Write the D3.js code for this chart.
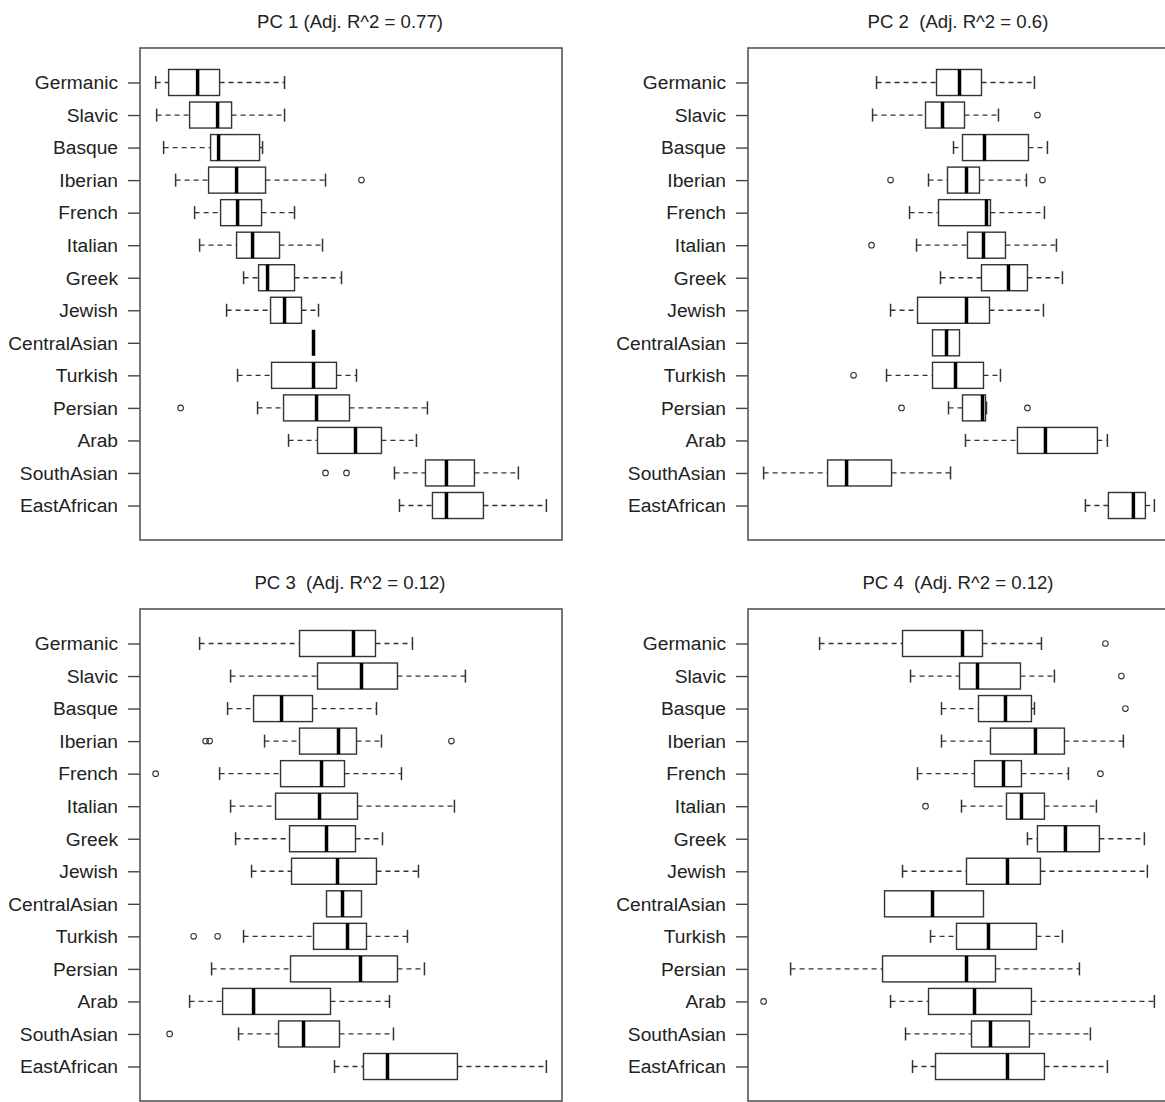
<!DOCTYPE html>
<html>
<head>
<meta charset="utf-8">
<script src="https://cdn.jsdelivr.net/npm/d3@7"></script>
<style>
  html, body { margin: 0; padding: 0; background: #fff; }
  svg { display: block; }
  text { font-family: "Liberation Sans", Arial, sans-serif; fill: #222; white-space: pre; }
</style>
</head>
<body>
<svg id="chart" width="1165" height="1102"></svg>
<script>
const categories = ["Germanic","Slavic","Basque","Iberian","French","Italian","Greek","Jewish","CentralAsian","Turkish","Persian","Arab","SouthAsian","EastAfrican"];
const titles = ["PC 1 (Adj. R^2 = 0.77)", "PC 2  (Adj. R^2 = 0.6)", "PC 3  (Adj. R^2 = 0.12)", "PC 4  (Adj. R^2 = 0.12)"];

// [lower whisker, Q1, median, Q3, upper whisker]
const pc1Stats = [
  [-1.96,-1.83,-1.54,-1.32,-0.67],
  [-1.95,-1.62,-1.34,-1.20,-0.67],
  [-1.88,-1.41,-1.33,-0.92,-0.89],
  [-1.76,-1.43,-1.15,-0.86,-0.26],
  [-1.57,-1.31,-1.14,-0.90,-0.57],
  [-1.52,-1.15,-0.99,-0.72,-0.29],
  [-1.08,-0.93,-0.84,-0.57,-0.10],
  [-1.25,-0.81,-0.67,-0.50,-0.33],
  [-0.38,-0.38,-0.38,-0.38,-0.38],
  [-1.14,-0.80,-0.38,-0.15, 0.05],
  [-0.94,-0.68,-0.35,-0.02, 0.76],
  [-0.63,-0.34, 0.04, 0.30, 0.65],
  [ 0.43, 0.74, 0.95, 1.23, 1.67],
  [ 0.48, 0.81, 0.95, 1.32, 1.95]
];
const pc1Outliers = [[],[],[],[0.10],[],[],[],[],[],[],[-1.71],[],[-0.26,-0.05],[]];

const pc2Stats = [
  [-0.82,-0.22, 0.01, 0.23, 0.76],
  [-0.86,-0.33,-0.16, 0.06, 0.40],
  [-0.05, 0.04, 0.26, 0.70, 0.89],
  [-0.30,-0.11, 0.08, 0.21, 0.68],
  [-0.49,-0.20, 0.28, 0.32, 0.86],
  [-0.42, 0.09, 0.25, 0.47, 0.98],
  [-0.18, 0.23, 0.50, 0.69, 1.04],
  [-0.68,-0.41, 0.08, 0.31, 0.85],
  [-0.26,-0.26,-0.12, 0.01, 0.01],
  [-0.72,-0.26,-0.03, 0.25, 0.42],
  [-0.10, 0.04, 0.24, 0.27, 0.28],
  [ 0.07, 0.59, 0.87, 1.39, 1.49],
  [-1.95,-1.31,-1.12,-0.67,-0.08],
  [ 1.27, 1.50, 1.75, 1.87, 1.96]
];
const pc2Outliers = [[],[0.79],[],[-0.68,0.84],[],[-0.87],[],[],[],[-1.05],[-0.57,0.69],[],[],[]];

const pc3Stats = [
  [-1.52,-0.52, 0.02, 0.24, 0.61],
  [-1.21,-0.34, 0.10, 0.46, 1.14],
  [-1.24,-0.98,-0.70,-0.39, 0.25],
  [-0.87,-0.52,-0.13, 0.05, 0.30],
  [-1.32,-0.71,-0.30,-0.07, 0.50],
  [-1.21,-0.76,-0.32, 0.06, 1.03],
  [-1.16,-0.62,-0.25, 0.04, 0.31],
  [-1.00,-0.60,-0.14, 0.25, 0.67],
  [-0.25,-0.25,-0.09, 0.10, 0.10],
  [-1.08,-0.38,-0.04, 0.15, 0.56],
  [-1.40,-0.61, 0.09, 0.46, 0.73],
  [-1.62,-1.29,-0.98,-0.21, 0.38],
  [-1.13,-0.73,-0.48,-0.12, 0.42],
  [-0.17, 0.12, 0.36, 1.06, 1.95]
];
const pc3Outliers = [[],[],[],[-1.46,-1.42,1.00],[-1.96],[],[],[],[],[-1.58,-1.34],[],[],[-1.82],[]];

const pc4Stats = [
  [-1.39,-0.56, 0.04, 0.24, 0.83],
  [-0.48, 0.01, 0.19, 0.62, 0.96],
  [-0.17, 0.20, 0.47, 0.73, 0.76],
  [-0.17, 0.32, 0.77, 1.06, 1.65],
  [-0.41, 0.16, 0.45, 0.63, 1.10],
  [ 0.03, 0.48, 0.63, 0.86, 1.38],
  [ 0.69, 0.79, 1.07, 1.41, 1.86],
  [-0.56, 0.08, 0.49, 0.82, 1.89],
  [-0.74,-0.74,-0.26, 0.25, 0.25],
  [-0.28,-0.02, 0.30, 0.78, 1.04],
  [-1.68,-0.76, 0.08, 0.37, 1.21],
  [-0.68,-0.30, 0.16, 0.73, 1.96],
  [-0.53, 0.13, 0.32, 0.71, 1.32],
  [-0.46,-0.23, 0.49, 0.86, 1.49]
];
const pc4Outliers = [[1.47],[1.63],[1.67],[],[1.42],[-0.33],[],[],[],[],[],[-1.95],[],[]];

const panels = [
  {title: titles[0], stats: pc1Stats, outliers: pc1Outliers, col: 0, row: 0},
  {title: titles[1], stats: pc2Stats, outliers: pc2Outliers, col: 1, row: 0},
  {title: titles[2], stats: pc3Stats, outliers: pc3Outliers, col: 0, row: 1},
  {title: titles[3], stats: pc4Stats, outliers: pc4Outliers, col: 1, row: 1}
];

const svg = d3.select("#chart");
const frameW = 422, frameH = 492;
const lefts = [140, 748], tops = [48, 609];

panels.forEach(p => {
  const x0 = lefts[p.col], y0 = tops[p.row];
  const g = svg.append("g").attr("transform", `translate(${x0},${y0})`);
  const all = p.stats.flat().concat(p.outliers.flat());
  const [mn, mx] = d3.extent(all);
  const pad = (mx - mn) * 0.04;
  const x = d3.scaleLinear().domain([mn - pad, mx + pad]).range([0, frameW]);
  const n = categories.length;
  const y = d3.scaleLinear().domain([0.5 - n * 0.04, n + 0.5 + n * 0.04]).range([0, frameH]);

  // title
  svg.append("text")
    .attr("x", x0 + frameW / 2 - 1).attr("y", y0 - 20)
    .attr("text-anchor", "middle")
    .style("font-size", "18.6px")
    .text(p.title);

  // y axis
  const axis = d3.axisLeft(y)
    .tickValues(d3.range(1, n + 1))
    .tickFormat(i => categories[i - 1])
    .tickSize(12).tickPadding(10);
  const ag = g.append("g").call(axis);
  ag.select(".domain").remove();
  ag.selectAll(".tick line").attr("stroke", "#444").attr("stroke-width", 1.4);
  ag.selectAll(".tick text").style("font-size", "19.2px").attr("fill", "#2a2a2a")
    .attr("dy", "0.33em").attr("font-family", "Liberation Sans, Arial, sans-serif");

  const rows = g.selectAll("g.row").data(p.stats).join("g").attr("class", "row");
  const half = y(1.4) - y(1), capHalf = y(1.2) - y(1);
  const yc = (d, i) => y(i + 1);

  // whiskers dashed
  rows.append("line")
    .attr("x1", d => x(d[0])).attr("x2", d => x(d[1]))
    .attr("y1", yc).attr("y2", yc)
    .attr("stroke", "#333").attr("stroke-width", 1.3).attr("stroke-dasharray", "5,4");
  rows.append("line")
    .attr("x1", d => x(d[3])).attr("x2", d => x(d[4]))
    .attr("y1", yc).attr("y2", yc)
    .attr("stroke", "#333").attr("stroke-width", 1.3).attr("stroke-dasharray", "5,4");
  // caps
  [0, 4].forEach(k => {
    rows.append("line")
      .attr("x1", d => x(d[k])).attr("x2", d => x(d[k]))
      .attr("y1", (d, i) => yc(d, i) - capHalf).attr("y2", (d, i) => yc(d, i) + capHalf)
      .attr("stroke", "#333").attr("stroke-width", 1.5)
      .attr("display", d => (k === 0 ? d[0] === d[1] : d[4] === d[3]) ? "none" : null);
  });
  // boxes
  rows.append("rect")
    .attr("x", d => x(d[1])).attr("width", d => x(d[3]) - x(d[1]))
    .attr("y", (d, i) => yc(d, i) - half).attr("height", 2 * half)
    .attr("fill", "#fff").attr("stroke", "#333").attr("stroke-width", 1.4);
  // medians
  rows.append("line")
    .attr("x1", d => x(d[2])).attr("x2", d => x(d[2]))
    .attr("y1", (d, i) => yc(d, i) - half).attr("y2", (d, i) => yc(d, i) + half)
    .attr("stroke", "#000").attr("stroke-width", 3.5);

  // outliers
  const outPts = [];
  p.outliers.forEach((arr, i) => arr.forEach(v => outPts.push([i, v])));
  g.selectAll("circle.out").data(outPts).join("circle")
    .attr("class", "out")
    .attr("cx", d => x(d[1])).attr("cy", d => y(d[0] + 1))
    .attr("r", 2.8).attr("fill", "none").attr("stroke", "#333").attr("stroke-width", 1.1);

  // frame
  g.append("rect").attr("x", 0).attr("y", 0).attr("width", frameW).attr("height", frameH)
    .attr("fill", "none").attr("stroke", "#555").attr("stroke-width", 1.6);
});
</script>
</body>
</html>
